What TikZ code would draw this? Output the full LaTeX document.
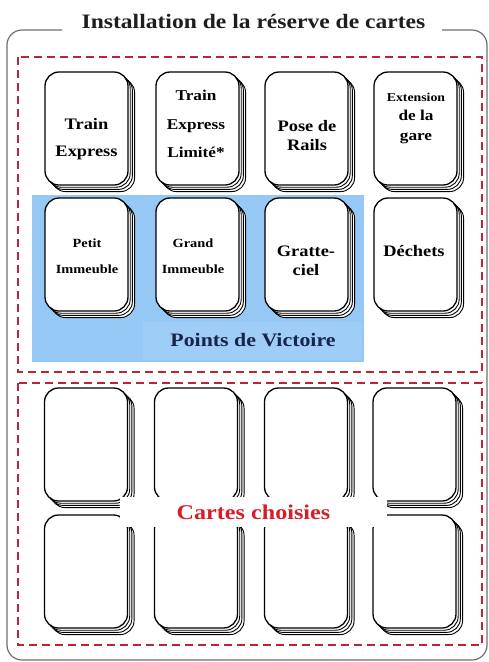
\documentclass[tikz,border=0pt]{standalone}
\usepackage{fontspec}
\setmainfont{Liberation Serif}
\newfontfamily\labfont[FakeStretch=1.15]{Liberation Serif}
\usetikzlibrary{shadows}
\definecolor{dashred}{RGB}{190,35,55}
\definecolor{skyfill}{RGB}{150,200,245}
\definecolor{skylight}{RGB}{158,205,247}
\definecolor{navytext}{RGB}{25,35,75}
\definecolor{redtext}{RGB}{215,30,40}
\definecolor{framegray}{RGB}{110,110,110}
\tikzset{
  shadowcard/.style={draw=black, fill=white, line width=0.9pt},
  card/.style={draw=black, line width=1.3pt, fill=white, rounded corners=14pt,
    minimum width=83pt, minimum height=113pt, inner sep=0pt,
    copy shadow={shadow xshift=6.6pt, shadow yshift=-6.6pt, shadowcard},
    copy shadow={shadow xshift=4.4pt, shadow yshift=-4.4pt, shadowcard},
    copy shadow={shadow xshift=2.2pt, shadow yshift=-2.2pt, shadowcard}},
  cardtext/.style={align=center, inner sep=0pt, text=black},
  zone/.style={draw=dashred, line width=2.6pt, dash pattern=on 8pt off 5pt},
}
\begin{document}
\begin{tikzpicture}[x=1pt,y=-1pt]
\useasboundingbox (0,0) rectangle (489,662);
% outer frame with title gap
\draw[framegray, line width=1.2pt, rounded corners=15pt]
  (62,30) -- (7,30) -- (7,660) -- (487,660) -- (487,30) -- (442,30);
\node[anchor=base, font=\labfont\bfseries\fontsize{20.5}{24}\selectfont, text={rgb,255:red,30;green,30;blue,30}]
  (title) at (253.5,28) {Installation de la réserve de cartes};
% zones
\draw[zone] (18,57) rectangle (482,372);
\draw[zone] (18,383) rectangle (482,645);
% victory points area
\fill[skyfill] (32,195) rectangle (364,362);
\fill[skylight] (143,322) rectangle (362,360);
% cards row 1
\node[card] (c1) at (86.5,128.5) {};
\node[card] (c2) at (197.5,128.5) {};
\node[card] (c3) at (306.5,128.5) {};
\node[card] (c4) at (415.5,128.5) {};
% row 2
\node[card] (c5) at (86.5,254.5) {};
\node[card] (c6) at (197.5,254.5) {};
\node[card] (c7) at (306.5,254.5) {};
\node[card] (c8) at (415.5,254.5) {};
% row 3
\node[card] (c9) at (86,444.5) {};
\node[card] (c10) at (196,444.5) {};
\node[card] (c11) at (306,444.5) {};
\node[card] (c12) at (414.5,444.5) {};
% row 4
\node[card] (c13) at (86,571.5) {};
\node[card] (c14) at (196,571.5) {};
\node[card] (c15) at (306,571.5) {};
\node[card] (c16) at (414.5,571.5) {};
% card labels
\node[cardtext, font=\labfont\bfseries\fontsize{16}{27}\selectfont] (t1) at (86.5,139) {Train\\Express};
\node[cardtext, font=\labfont\bfseries\fontsize{15}{28.5}\selectfont] (t2) at (196,124) {Train\\Express\\Limité*};
\node[cardtext, font=\labfont\bfseries\fontsize{16}{19}\selectfont] (t3) at (307,136) {Pose de\\Rails};
\node[cardtext, font=\labfont\bfseries\fontsize{15}{19.5}\selectfont] (t4) at (416,118) {{\fontsize{12}{19.5}\selectfont Extension}\\de la\\gare};
\node[cardtext, font=\labfont\bfseries\fontsize{12.5}{26}\selectfont] (t5) at (87,256.5) {Petit\\Immeuble};
\node[cardtext, font=\labfont\bfseries\fontsize{12.5}{26}\selectfont] (t6) at (193,256.5) {Grand\\Immeuble};
\node[cardtext, font=\labfont\bfseries\fontsize{16}{19}\selectfont] (t7) at (306,261) {Gratte-\\ciel};
\node[cardtext, font=\labfont\bfseries\fontsize{16}{19}\selectfont] (t8) at (414,251) {Déchets};
% zone labels
\node[font=\labfont\bfseries\fontsize{19}{22}\selectfont, text=navytext, inner sep=0pt] (pv) at (253,340) {Points de Victoire};
\node[fill=white, minimum width=267pt, minimum height=30pt, inner sep=0pt,
  font=\labfont\bfseries\fontsize{21}{24}\selectfont, text=redtext] (cc) at (253.5,512) {Cartes choisies};
\end{tikzpicture}
\end{document}
